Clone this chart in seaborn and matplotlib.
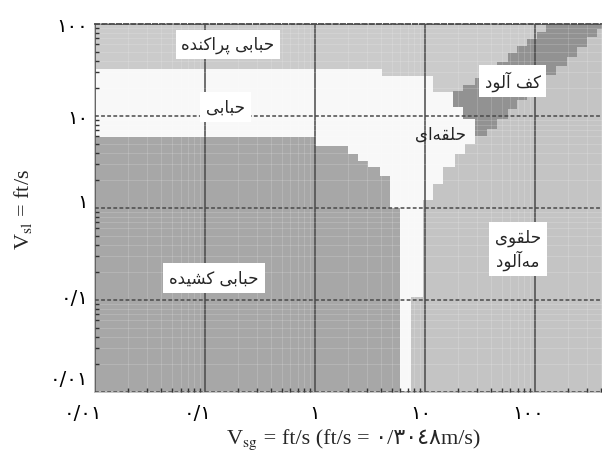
import matplotlib
matplotlib.use('Agg')
import matplotlib.pyplot as plt
import matplotlib.transforms as mtransforms
import seaborn as sns

# Flow regime map: Vsg (x) and Vsl (y), ft/s, log-log, stair-stepped region edges

# elongated bubble (dark, bottom-left): column edges and region top
eb_x = [0.01, 1.0, 2.0, 2.46, 3.03, 3.9, 4.8, 5.93]
eb_top = [5.9, 4.7, 3.86, 3.24, 2.79, 2.23, 1.0]

# bubble / annular (white): column edges and region top
wh_x = [0.01, 4.07, 11.8, 28.5]
wh_top = [32.4, 27.2, 18.2]

# annular mist (right), left part; further right it sits under the froth band
am_x = [7.46, 9.6, 11.8, 14.6, 18.7, 23.1, 28.5]
am_top = [0.108, 1.22, 1.82, 2.79, 3.86, 4.96]

# froth band (dark diagonal)
fr_x = [18.0, 22.1, 28.5, 36.6, 45.2, 56.9, 68.6, 84.6, 104, 128, 158, 195, 241, 297, 366, 410]
fr_top = [18.7, 21.7, 25.9, 30.8, 38.6, 48.4, 57.7, 68.7, 81.8, 100, 100, 100, 100, 100, 100]
fr_bot = [12.5, 9.3, 6.07, 7.2, 9.3, 11.9, 14.9, 18.2, 22.3, 27.9, 34.9, 43.8, 56.2, 72.2, 88.2]

# axis ticks
x_ticks = [0.01, 0.1, 1, 10, 100]
x_labels = ['۰/۰۱', '۰/۱', '۱', '۱۰', '۱۰۰']
y_ticks = [0.01, 0.1, 1, 10, 100]
y_labels = ['۰/۰۱', '۰/۱', '۱', '۱۰', '۱۰۰']

# region names
names = ['حبابی پراکنده', 'حبابی', 'کف آلود', 'حلقه‌ای', 'حلقوی\nمه‌آلود', 'حبابی کشیده']


# matplotlib does no arabic shaping: pick presentation forms by hand, then reverse
FORMS = {  # iso, fin, ini, med
    'ا': ('\ufe8d', '\ufe8e', None, None),
    'آ': ('\ufe81', '\ufe82', None, None),
    'د': ('\ufea9', '\ufeaa', None, None),
    'ر': ('\ufead', '\ufeae', None, None),
    'و': ('\ufeed', '\ufeee', None, None),
    'ب': ('\ufe8f', '\ufe90', '\ufe91', '\ufe92'),
    'پ': ('\ufb56', '\ufb57', '\ufb58', '\ufb59'),
    'ح': ('\ufea1', '\ufea2', '\ufea3', '\ufea4'),
    'ش': ('\ufeb5', '\ufeb6', '\ufeb7', '\ufeb8'),
    'ف': ('\ufed1', '\ufed2', '\ufed3', '\ufed4'),
    'ق': ('\ufed5', '\ufed6', '\ufed7', '\ufed8'),
    'ک': ('\ufb8e', '\ufb8f', '\ufb90', '\ufb91'),
    'ل': ('\ufedd', '\ufede', '\ufedf', '\ufee0'),
    'م': ('\ufee1', '\ufee2', '\ufee3', '\ufee4'),
    'ن': ('\ufee5', '\ufee6', '\ufee7', '\ufee8'),
    'ه': ('\ufee9', '\ufeea', '\ufeeb', '\ufeec'),
    'ی': ('\ufbfc', '\ufbfd', '\ufbfe', '\ufbff'),
}


def dual(c):
    return c in FORMS and FORMS[c][2] is not None


def shape_line(s):
    out = []
    for i, c in enumerate(s):
        if c == '\u200c':
            continue
        if c not in FORMS:
            out.append(c)
            continue
        prev = s[i - 1] if i > 0 else ''
        nxt = s[i + 1] if i + 1 < len(s) else ''
        jp = dual(prev)
        jn = dual(c) and nxt in FORMS
        iso, fin, ini, med = FORMS[c]
        if jp and jn:
            out.append(med)
        elif jp:
            out.append(fin)
        elif jn:
            out.append(ini)
        else:
            out.append(iso)
    return ''.join(out)[::-1]


def shape(s):
    return '\n'.join(shape_line(l) for l in s.split('\n'))


sns.set_theme(style='white')
plt.rcParams['font.family'] = ['DejaVu Sans']
plt.rcParams['mathtext.fontset'] = 'stix'

colors = {'dispersed': '#cbcbcb', 'white': '#f8f8f8', 'mist': '#c4c4c4',
          'elongated': '#a7a7a7', 'froth': '#929292'}

fig = plt.figure(figsize=(6.02, 4.56), dpi=100)
ax = fig.add_axes([95 / 602, 1 - 393 / 456, 507 / 602, 368 / 456])
ax.set_xscale('log')
ax.set_yscale('log')
ax.set_xlim(0.01, 410)
ax.set_ylim(0.01, 100)
ax.set_facecolor(colors['dispersed'])

lo = 0.01
ax.fill_between(wh_x, lo, wh_top + wh_top[-1:], step='post', color=colors['white'], lw=0)
mist_x = am_x + fr_x[3:]
mist_top = am_top + fr_bot[2:]
ax.fill_between(mist_x, lo, mist_top + mist_top[-1:], step='post', color=colors['mist'], lw=0)
ax.fill_between(eb_x, lo, eb_top + eb_top[-1:], step='post', color=colors['elongated'], lw=0)
ax.fill_between(fr_x, fr_bot + fr_bot[-1:], fr_top + fr_top[-1:], step='post',
                color=colors['froth'], lw=0)

# grid
ax.grid(which='minor', color='white', alpha=0.18, lw=0.6)
ax.grid(which='major', axis='x', color='#4a4a4a', lw=1.1, ls='-')
ax.grid(which='major', axis='y', color='#4a4a4a', lw=1.1, ls=(0, (2.5, 1.5)))
ax.set_axisbelow(False)

for s in ['left', 'bottom']:
    ax.spines[s].set_color('#bdbdbd')
ax.spines['top'].set_color('#4a4a4a')
ax.spines['top'].set_linestyle((0, (2.5, 1.5)))
ax.spines['top'].set_linewidth(1.3)
ax.spines['right'].set_visible(False)

ax.set_xticks(x_ticks, x_labels)
ax.set_yticks(y_ticks, y_labels)
ax.tick_params(which='major', direction='in', length=0, labelsize=14, colors='black')
ax.tick_params(axis='y', which='major', pad=5)
ax.tick_params(axis='x', which='major', pad=8)
ax.tick_params(which='minor', direction='in', length=3, width=1, color='#333333',
               left=True, bottom=True)
ax.tick_params(axis='y', which='minor', labelleft=False)
ax.tick_params(axis='x', which='minor', labelbottom=False)

# the scanned labels sit a little off their ticks; nudge them (points)
x_nudge = [-9, -5, 0, -3, -5]
y_nudge = [11, 3, 6, 0, 0]
for lab, dx in zip(ax.get_xticklabels(), x_nudge):
    lab.set_transform(lab.get_transform() +
                      mtransforms.ScaledTranslation(dx / 72, 0, fig.dpi_scale_trans))
for lab, dy in zip(ax.get_yticklabels(), y_nudge):
    lab.set_transform(lab.get_transform() +
                      mtransforms.ScaledTranslation(0, dy / 72, fig.dpi_scale_trans))

# region labels
lx = [0.162, 0.155, 63, 14, 70, 0.121]
ly = [60, 12.5, 24, 6.4, 0.36, 0.173]
boxed = [True, True, True, False, True, True]
for t, x, y, b in zip(names, lx, ly, boxed):
    kw = dict(boxstyle='square,pad=0.35', fc='white', ec='none') if b else None
    ax.text(x, y, shape(t), ha='center', va='center', fontsize=12,
            multialignment='center', bbox=kw, linespacing=1.2)

# axis titles: symbol with subscript in mathtext, the rest as plain text (persian digits)
serif = ['Liberation Serif', 'DejaVu Sans']
yb = 1 - 444 / 456
fig.text(258 / 602, yb, r'V$_{\mathrm{sg}}$', ha='right', va='baseline', fontsize=16,
         family=serif)
fig.text(258 / 602, yb, ' = ft/s (ft/s = ۰/۳۰٤۸m/s)', ha='left', va='baseline',
         fontsize=16, family=serif)
ax.set_ylabel(r'V$_{\mathrm{sl}}$ = ft/s', family=serif, fontsize=16, labelpad=11)

fig.savefig('out.png', dpi=100)
